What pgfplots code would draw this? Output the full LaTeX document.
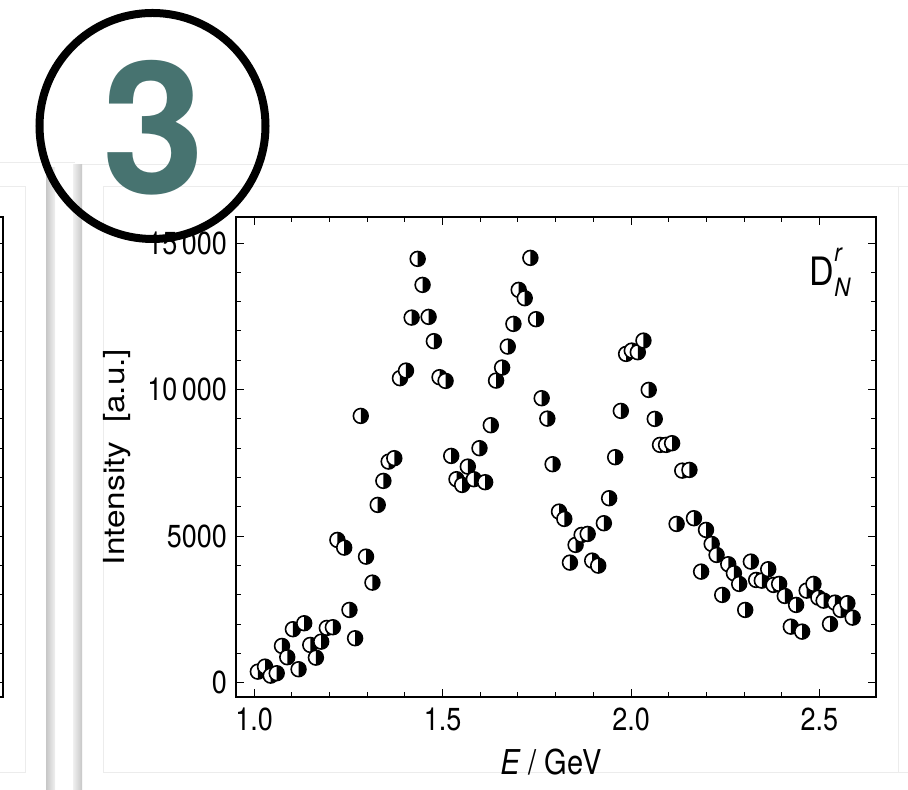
\documentclass[border=0pt]{standalone}
\usepackage{fontspec}
\setmainfont{TeX Gyre Heros}
\usepackage{pgfplots}
\usepackage{pgfplotstable}
\pgfplotsset{compat=1.18}
\usetikzlibrary{shadings}

\definecolor{teal3}{RGB}{71,115,112}
\definecolor{panelline}{RGB}{236,236,236}

% circle marker: left half open, right half filled
\pgfdeclareplotmark{halfdisc}{%
  \pgfpathcircle{\pgfpointorigin}{\pgfplotmarksize}%
  \pgfsetfillcolor{white}\pgfusepath{fill}%
  \pgfpathmoveto{\pgfqpoint{0pt}{\pgfplotmarksize}}%
  \pgfpatharc{90}{-90}{\pgfplotmarksize}%
  \pgfpathclose
  \pgfsetfillcolor{black}\pgfusepath{fill}%
  \pgfpathcircle{\pgfpointorigin}{\pgfplotmarksize}%
  \pgfusepath{stroke}%
}

\pgfplotstableread{
E      I
1.010  375
1.029  546
1.044  239
1.060  321
1.074  1253
1.088  867
1.103  1823
1.118  457
1.133  2027
1.149  1287
1.164  853
1.178  1399
1.193  1867
1.209  1891
1.221  4870
1.239  4608
1.253  2481
1.268  1515
1.283  9102
1.297  4300
1.314  3413
1.328  6065
1.343  6884
1.357  7543
1.372  7659
1.387  10389
1.403  10648
1.418  12457
1.434  14461
1.447  13573
1.463  12481
1.477  11652
1.492  10423
1.508  10297
1.523  7737
1.537  6942
1.552  6747
1.567  7372
1.583  6942
1.598  8000
1.613  6840
1.628  8785
1.642  10307
1.658  10751
1.673  11468
1.688  12242
1.702  13403
1.718  13119
1.733  14495
1.748  12403
1.763  9706
1.778  9010
1.792  7454
1.809  5836
1.823  5587
1.838  4096
1.853  4700
1.869  5041
1.885  5075
1.897  4164
1.913  3993
1.928  5440
1.942  6293
1.958  7693
1.973  9273
1.987  11218
2.002  11331
2.018  11276
2.033  11672
2.047  9990
2.063  9000
2.077  8113
2.093  8113
2.109  8171
2.121  5416
2.136  7235
2.155  7259
2.167  5611
2.186  3788
2.199  5212
2.214  4734
2.227  4358
2.242  2993
2.258  4041
2.273  3734
2.287  3369
2.303  2481
2.318  4130
2.332  3505
2.347  3481
2.364  3870
2.378  3334
2.393  3369
2.408  2959
2.424  1911
2.438  2652
2.454  1741
2.466  3140
2.484  3369
2.497  2901
2.511  2799
2.528  2003
2.541  2730
2.556  2481
2.574  2710
2.588  2218
}\spectrum

\begin{document}
\begin{tikzpicture}
\useasboundingbox (0,0) rectangle (454pt,395pt);
\fill[white] (0,0) rectangle (454pt,395pt);

% page furniture, in pixel units (origin top left)
\begin{scope}[x=0.5pt,y=-0.5pt,yshift=395pt]
  % faint panel outlines
  \draw[panelline,line width=0.5pt] (0,163) -- (75,163);
  \draw[panelline,line width=0.5pt] (82,165) -- (908,165);
  \draw[panelline,line width=0.5pt] (0,187) -- (25,187) -- (25,773) -- (0,773);
  \draw[panelline,line width=0.5pt] (908,187) -- (103,187) -- (103,773) -- (908,773);
  \draw[panelline,line width=0.5pt] (898,187) -- (898,773);
  % divider shadows
  \shade[left color=black!22,right color=black!6] (46,168) rectangle (55,790);
  \shade[left color=black!6,right color=black!22] (73,165) rectangle (82,790);
  % edge of the neighbouring frame
  \draw[line width=0.6pt] (0,217) -- (3,217) -- (3,697) -- (0,697);
  \foreach \t in {0,...,15} {\draw[line width=0.5pt] (0,682.7-29.3*\t) -- (3,682.7-29.3*\t);}
\end{scope}

\begin{axis}[
  at={(118pt,46.5pt)}, anchor=south west,
  scale only axis, width=320pt, height=240pt,
  xmin=0.952, xmax=2.650, ymin=-490, ymax=15890,
  scaled y ticks=false, scaled x ticks=false,
  xtick={1.0,1.5,2.0,2.5}, xticklabels={1.0,1.5,2.0,2.5},
  ytick={0,5000,10000,15000}, yticklabels={0,5000,10\,000,15\,000},
  minor x tick num=4, minor y tick num=4,
  tick align=inside,
  major tick length=4pt, minor tick length=2.5pt,
  every tick/.style={black,line width=0.5pt},
  axis line style={line width=0.6pt},
  ticklabel style={font=\fontsize{13.5}{16}\selectfont, yscale=1.18},
  xticklabel style={yshift=-1pt},
  yticklabel style={xshift=-1pt},
  xlabel={\textit{E} / GeV},
  ylabel={Intensity\ \ [a.u.]},
  label style={font=\fontsize{14.5}{17}\selectfont},
  xlabel style={at={(axis description cs:0.492,-0.135)},anchor=center,yscale=1.18},
  ylabel style={at={(axis description cs:-0.186,0.5)},anchor=center,xscale=1.15},
  clip=false,
]
\addplot[only marks, mark=halfdisc, mark size=3.7pt,
  mark options={draw=black,line width=0.8pt}] table[x=E,y=I] {\spectrum};
\node[font=\fontsize{17}{20}\selectfont, yscale=1.15, inner sep=0pt] at (axis description cs:0.928,0.885)
  {D\rlap{\raisebox{0.62em}{\fontsize{11}{12}\selectfont\itshape r}}\raisebox{-0.30em}{\fontsize{11}{12}\selectfont\itshape N}};
\end{axis}

% numbered badge
\begin{scope}[x=0.5pt,y=-0.5pt,yshift=395pt]
  \draw[black,line width=4pt] (152.5,126) circle[radius=113];
  \node[text=teal3,font=\fontsize{92}{92}\bfseries\selectfont,inner sep=0pt]
    at (153.5,127.5) {3};
\end{scope}
\end{tikzpicture}
\end{document}
